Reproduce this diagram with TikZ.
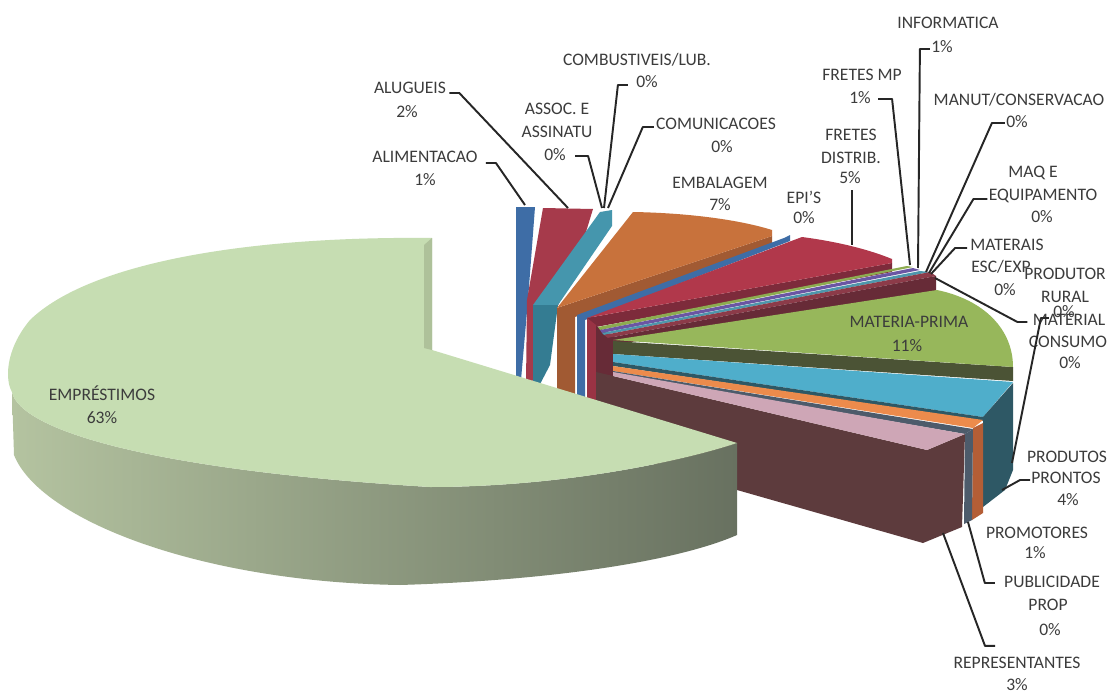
\documentclass[tikz,border=0pt]{standalone}
\usepackage{fontspec}
\setmainfont{Carlito}
\usepackage{tikz}
\usetikzlibrary{positioning}

% slice colours
\definecolor{txtgray}{HTML}{3C3C3C}
\definecolor{emprTop}{HTML}{C6DDB2}
\definecolor{emprSideL}{HTML}{B4C3A0}
\definecolor{emprSideR}{HTML}{687160}
\definecolor{emprCut}{HTML}{AEC19A}
\definecolor{alimBlue}{HTML}{3E6DA6}
\definecolor{alugRed}{HTML}{A63A4B}
\definecolor{assocTeal}{HTML}{4596AD}
\definecolor{assocTealDk}{HTML}{347C92}
\definecolor{embTop}{HTML}{C8723C}
\definecolor{embSide}{HTML}{A15A33}
\definecolor{epiBlue}{HTML}{3E6DA6}
\definecolor{frdiTop}{HTML}{B1384B}
\definecolor{frdiSide}{HTML}{7D2B3B}
\definecolor{frdiFront}{HTML}{9A3344}
\definecolor{frmpGreen}{HTML}{8DAC50}
\definecolor{infoPurple}{HTML}{6B56A3}
\definecolor{manutTeal}{HTML}{4E97AC}
\definecolor{matescTop}{HTML}{8C3B49}
\definecolor{matescSide}{HTML}{672B37}
\definecolor{mpTop}{HTML}{97B75B}
\definecolor{mpSide}{HTML}{4B5335}
\definecolor{prodTop}{HTML}{4FAECB}
\definecolor{prodSide}{HTML}{2E5865}
\definecolor{promoTop}{HTML}{EC8B4C}
\definecolor{promoSide}{HTML}{B45E36}
\definecolor{publGray}{HTML}{4D5B6B}
\definecolor{reprTop}{HTML}{CEA6B6}
\definecolor{reprSide}{HTML}{5D3B3D}

\begin{document}
\begin{tikzpicture}[
    x=0.02cm, y=-0.02cm,
    font=\fontsize{10}{13}\selectfont,
    line join=round,
    lbl/.style={text=txtgray, align=center, inner sep=0pt},
    leader/.style={draw=black!85, line width=1.1pt},
]

\fill[white] (0,0) rectangle (1117,693);
\useasboundingbox (0,0) rectangle (1117,693);

%============================================================
%  Fan of small slices (back to front)
%============================================================
% ALIMENTACAO
\fill[alimBlue] (516,207) -- (535,207) -- (528,300) -- (521,380) -- (516,380) -- cycle;
% ALUGUEIS
\fill[alugRed] (543,208) -- (593,209) -- (575,268) -- (540,345) -- (532,384) -- (526,384) -- (527,300) -- cycle;
% ASSOC. / COMBUSTIVEIS / COMUNICACOES
\fill[assocTeal] (600,212) -- (612,210) -- (612,226) -- (558,305) -- (533,305) -- cycle;
\fill[assocTealDk] (533,305) -- (558,305) -- (550,365) -- (538,388) -- (533,388) -- cycle;

% EMBALAGEM
\fill[embSide] (557,308) -- (772,236) -- (772,247) -- (575,317) -- (575,410) -- (557,410) -- cycle;
\fill[embTop] (557,308) -- (633,212) .. controls (690,213) and (740,220) .. (772,230) -- (772,236) -- cycle;

% EPI'S
\fill[epiBlue] (577,315) -- (784,238) -- (790,235) -- (790,241) -- (585,320) -- (585,410) -- (577,410) -- cycle;

% FRETES DISTRIB.
\fill[frdiSide] (587,318) -- (892,263) -- (892,272) -- (596,327) -- cycle;
\fill[frdiFront] (587,318) -- (596,325) -- (596,410) -- (587,410) -- cycle;
\fill[frdiTop] (587,318) -- (802,237) .. controls (840,242) and (870,250) .. (892,259) -- (892,263) -- cycle;

% thin slices: FRETES MP, INFORMATICA, MANUT, MATERAIS
\fill[matescSide] (596,326) -- (613,336) -- (613,410) -- (596,410) -- cycle;
\fill[frmpGreen] (598,327) -- (907,266) -- (913,267) -- (600,330) -- cycle;
\fill[infoPurple] (600,330) -- (913,268) -- (920,270) -- (602,333) -- cycle;
\fill[manutTeal] (602,333) -- (920,271) -- (930,272) -- (604,335) -- cycle;
\fill[matescTop] (604,335) -- (930,272) -- (936,276) -- (608,338) -- cycle;
\fill[matescSide] (608,338) -- (936,276) -- (936,292) -- (613,345) -- cycle;

% MATERIA-PRIMA
\fill[mpSide] (613,341) -- (1013,367) -- (1013,381) -- (613,354) -- cycle;
\fill[mpTop] (613,340) -- (937,290) .. controls (985,300) and (1013,330) .. (1013,367) -- cycle;

% PRODUTOS PRONTOS
\fill[prodTop] (613,354) -- (1013,382) -- (983,417) -- (613,362) -- cycle;
\fill[prodSide] (613,362) -- (983,417) -- (983,421) -- (613,366) -- cycle;
\fill[prodSide] (983,417) -- (1013,383) -- (1013,470) -- (1005,490) -- (983,507) -- cycle;

% PROMOTORES
\fill[promoTop] (613,366) -- (983,420) -- (973,428) -- (613,371) -- cycle;
\fill[promoSide] (973,428) -- (983,423) -- (983,513) -- (972,520) -- cycle;

% PUBLICIDADE PROP
\fill[publGray] (613,371) -- (973,429) -- (965,434) -- (613,373) -- cycle;
\fill[publGray] (965,434) -- (973,429) -- (972,520) -- (964,524) -- cycle;

% REPRESENTANTES
\fill[reprSide] (596,372) -- (613,376) -- (927,450) -- (965,434) -- (962,527)
    -- (923,543) -- (737,490) -- (596,445) -- cycle;
\fill[reprTop] (613,372) -- (965,434) -- (927,450) -- (613,376) -- cycle;

%============================================================
%  EMPRESTIMOS (front)
%============================================================
\shade[left color=emprSideL, right color=emprSideR]
    (12,392) .. controls (20,430) and (150,470) .. (430,487)
    .. controls (560,487) and (680,462) .. (737,443) -- (737,535)
    .. controls (680,560) and (560,580) .. (400,585)
    .. controls (200,582) and (40,520) .. (14,455) -- cycle;
\fill[emprTop] (432,350) -- (432,238)
    .. controls (250,236) and (90,262) .. (30,320)
    .. controls (5,350) and (5,380) .. (12,392)
    .. controls (20,430) and (150,470) .. (430,487)
    .. controls (560,487) and (680,462) .. (737,443) -- cycle;
\fill[emprCut] (424,245) -- (432,238) -- (432,350) -- (424,348) -- cycle;

%------------------------------------------------------------
% leader end points on the slices
%------------------------------------------------------------
\coordinate (pAlim)    at (525,205);
\coordinate (pAlug)    at (568,208);
\coordinate (pAssoc)   at (602,208);
\coordinate (pComb)    at (604,208);
\coordinate (pComu)    at (608,208);
\coordinate (pFrDi)    at (852,245);
\coordinate (pFrMp)    at (910,265);
\coordinate (pInfo)    at (918,268);
\coordinate (pManut)   at (926,272);
\coordinate (pMaq)     at (929,273);
\coordinate (pMatEsc)  at (931,274);
\coordinate (pMatCons) at (935,278);
\coordinate (pProdRur) at (1012,463);
\coordinate (pProdPr)  at (1002,490);
\coordinate (pPubl)    at (968,522);
\coordinate (pRepr)    at (943,533);

%------------------------------------------------------------
% labels
%------------------------------------------------------------
\node[lbl] (alim)     at (425,157)  {ALIMENTACAO};
\node[lbl] (alimP)    at (425,180)  {1\%};
\node[lbl] (alug)     at (410,88)   {ALUGUEIS};
\node[lbl] (alugP)    at (407,112)  {2\%};
\node[lbl] (assoc)    at (557,120)  {ASSOC. E\\ASSINATU};
\node[lbl] (assocP)   at (555,155)  {0\%};
\node[lbl] (comb)     at (637,60)   {COMBUSTIVEIS/LUB.};
\node[lbl] (combP)    at (647,82)   {0\%};
\node[lbl] (comu)     at (716,124)  {COMUNICACOES};
\node[lbl] (comuP)    at (722,147)  {0\%};
\node[lbl] (emb)      at (720,183)  {EMBALAGEM};
\node[lbl] (embP)     at (720,205)  {7\%};
\node[lbl] (epi)      at (804,197)  {EPI'S};
\node[lbl] (epiP)     at (804,218)  {0\%};
\node[lbl] (frdi)     at (851,146)  {FRETES\\DISTRIB.};
\node[lbl] (frdiP)    at (850,178)  {5\%};
\node[lbl] (frmp)     at (862,75)   {FRETES MP};
\node[lbl] (frmpP)    at (860,98)   {1\%};
\node[lbl] (info)     at (948,23)   {INFORMATICA};
\node[lbl] (infoP)    at (942,47)   {1\%};
\node[lbl] (manut)    at (1019,100) {MANUT/CONSERVACAO};
\node[lbl] (manutP)   at (1017,122) {0\%};
\node[lbl] (maq)      at (1033,173) {MAQ E};
\node[lbl] (maqEq)    at (1043,196) {EQUIPAMENTO};
\node[lbl] (maqP)     at (1042,217) {0\%};
\node[lbl] (matesc)   at (1007,245) {MATERAIS};
\node[lbl] (matescEx) at (1001,267) {ESC/EXP};
\node[lbl] (matescP)  at (1005,290) {0\%};
\node[lbl] (prodrur)  at (1065,285) {PRODUTOR\\RURAL};
\node[lbl] (prodrurP) at (1064,312) {0\%};
\node[lbl] (matcons)  at (1069,320) {MATERIAL};
\node[lbl] (matconsCo) at (1068,342) {CONSUMO};
\node[lbl] (matconsP) at (1070,363) {0\%};
\node[lbl] (mp)       at (909,322)  {MATERIA-PRIMA};
\node[lbl] (mpP)      at (907,346)  {11\%};
\node[lbl] (prodpr)   at (1067,457) {PRODUTOS};
\node[lbl] (prodprPr) at (1066,478) {PRONTOS};
\node[lbl] (prodprP)  at (1068,500) {4\%};
\node[lbl] (promo)    at (1037,533) {PROMOTORES};
\node[lbl] (promoP)   at (1035,553) {1\%};
\node[lbl] (publ)     at (1052,582) {PUBLICIDADE};
\node[lbl] (publPr)   at (1048,605) {PROP};
\node[lbl] (publP)    at (1050,630) {0\%};
\node[lbl] (repr)     at (1017,663) {REPRESENTANTES};
\node[lbl] (reprP)    at (1017,685) {3\%};
\node[lbl] (empr)     at (102,393)  {EMPRÉSTIMOS};
\node[lbl] (emprP)    at (102,418)  {63\%};

%------------------------------------------------------------
% leaders
%------------------------------------------------------------
\draw[leader] ([shift={(8,6)}]alim.east) -- ++(10,0) -- (pAlim);
\draw[leader] ([shift={(3,5)}]alug.east) -- ++(10,0) -- (pAlug);
\draw[leader] ([shift={(9,1)}]assocP.east) -- ++(13,0) -- (pAssoc);
\draw[leader] ([shift={(-8,3)}]combP.west) -- ++(-10,0) -- (pComb);
\draw[leader] ([shift={(-2,3)}]comu.west) -- ++(-11,0) -- (pComu);
\draw[leader] ([shift={(2,6)}]frdiP.south) -- (pFrDi);
\draw[leader] ([shift={(7,1)}]frmpP.east) -- ++(14,0) -- (pFrMp);
\draw[leader] ([shift={(-1,2)}]infoP.west) -- ++(-10,0) -- (pInfo);
\draw[leader] ([shift={(-1,1)}]manutP.west) -- ++(-13,0) -- (pManut);
\draw[leader] ([shift={(-1,3)}]maqEq.west) -- ++(-14,0) -- (pMaq);
\draw[leader] ([shift={(-3,3)}]matesc.west) -- ++(-12,0) -- (pMatEsc);
\draw[leader] ([shift={(-5,2)}]matcons.west) -- ++(-10,0) -- (pMatCons);
\draw[leader] ([shift={(-4,6)}]prodrurP.west) -- ++(-8,0) -- (pProdRur);
\draw[leader] ([shift={(-1,2)}]prodprPr.west) -- ++(-10,0) -- (pProdPr);
\draw[leader] ([shift={(-9,1)}]publ.west) -- ++(-10,0) -- (pPubl);
\draw[leader] ([shift={(-22,-11)}]repr.north) -- ++(-10,0) -- (pRepr);

\end{tikzpicture}
\end{document}
